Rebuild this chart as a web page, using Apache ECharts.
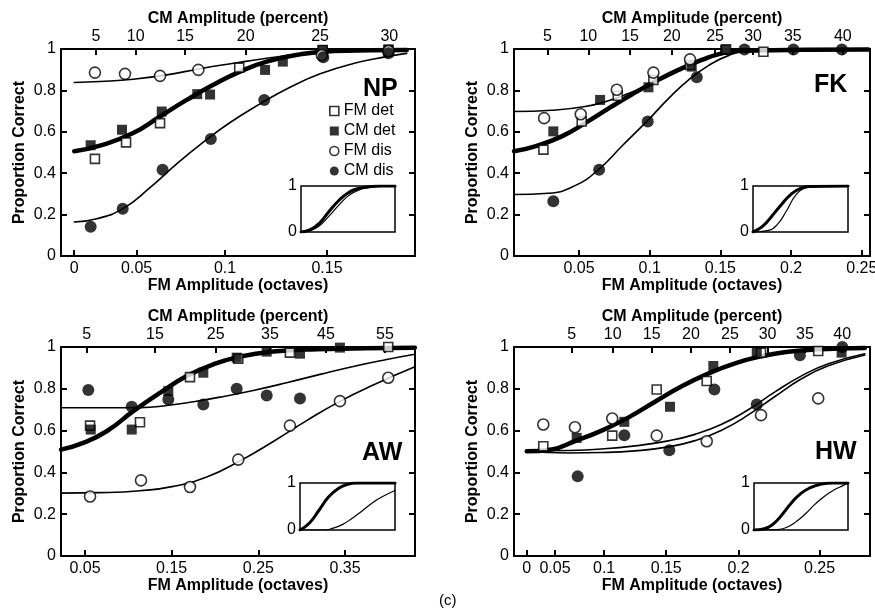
<!DOCTYPE html>
<html><head><meta charset="utf-8">
<script src="https://cdn.jsdelivr.net/npm/echarts@6/dist/echarts.min.js"></script>
<style>html,body{margin:0;padding:0;background:#fff}#c{width:875px;height:616px}</style>
</head><body><div id="c"></div>
<script>
// ---------------- DATA (FM amplitude in octaves, proportion correct) ----------------
// NP
const npFmTicks = [0, 0.05, 0.1, 0.15];
const npCmTicks = [5, 10, 15, 20, 25, 30];
const npCmTickFM = [0.0218, 0.0494, 0.0785, 0.1106, 0.1468, 0.1784];
const npFMdet = [[0.0210,0.469],[0.0432,0.549],[0.0642,0.642],[0.1073,0.910],[0.1480,0.995],[0.1780,0.995]];
const npCMdet = [[0.0175,0.535],[0.0405,0.610],[0.0652,0.698],[0.0852,0.782],[0.0921,0.780],[0.1203,0.899],[0.1290,0.939],[0.1480,0.995],[0.1780,0.998]];
const npFMdis = [[0.0210,0.886],[0.0425,0.880],[0.0642,0.870],[0.0858,0.899],[0.1476,0.970],[0.1780,0.990]];
const npCMdis = [[0.0175,0.141],[0.0410,0.228],[0.0657,0.417],[0.0925,0.565],[0.1199,0.754],[0.1483,0.960],[0.1780,0.979]];
const npCurveDet = [[0,0.506],[0.0249,0.533],[0.0478,0.594],[0.0642,0.674],[0.0794,0.754],[0.0938,0.827],[0.1077,0.891],[0.1211,0.939],[0.1373,0.974],[0.153,0.99],[0.1861,0.995]];
const npCurveFMdis = [[0,0.838],[0.0249,0.843],[0.0478,0.854],[0.0681,0.875],[0.0867,0.905],[0.1043,0.931],[0.1211,0.955],[0.1373,0.974],[0.153,0.985],[0.1683,0.992],[0.1861,0.995]];
const npCurveCMdis = [[0,0.164],[0.0224,0.18],[0.0414,0.23],[0.0582,0.33],[0.0738,0.445],[0.0885,0.55],[0.1026,0.645],[0.1178,0.735],[0.1325,0.815],[0.1468,0.88],[0.1622,0.93],[0.1772,0.963],[0.1861,0.979]];
const npInsetThick = [[0,0],[0.1,0.05],[0.2,0.2],[0.3,0.45],[0.4,0.68],[0.5,0.85],[0.6,0.94],[0.7,0.98],[0.85,1],[1,1]];
const npInsetThin = [[0,0],[0.1,0.03],[0.2,0.14],[0.3,0.35],[0.4,0.58],[0.5,0.78],[0.6,0.9],[0.7,0.96],[0.85,0.99],[1,1]];

// FK
const fkFmTicks = [0.05, 0.1, 0.15, 0.2, 0.25];
const fkCmTicks = [5, 10, 15, 20, 25, 30, 35, 40];
const fkCmTickFM = [0.0276, 0.0566, 0.0861, 0.1156, 0.1462, 0.1731, 0.2012, 0.2366];
const fkFMdet = [[0.0248,0.514],[0.0519,0.65],[0.0774,0.774],[0.1026,0.85],[0.1285,0.923],[0.1540,0.998],[0.1804,0.987]];
const fkCMdet = [[0.0318,0.602],[0.0649,0.754],[0.0991,0.815],[0.1297,0.915],[0.1533,0.995]];
const fkFMdis = [[0.0253,0.666],[0.0512,0.685],[0.0767,0.803],[0.1026,0.886],[0.1285,0.95]];
const fkCMdis = [[0.0318,0.265],[0.0642,0.417],[0.0986,0.65],[0.1333,0.864],[0.1670,0.998],[0.2016,0.998],[0.2359,0.998]];
const fkCurveDet = [[0.004,0.506],[0.0189,0.53],[0.0378,0.578],[0.0543,0.642],[0.0707,0.712],[0.0873,0.78],[0.1038,0.843],[0.1203,0.899],[0.1368,0.947],[0.151,0.979],[0.1651,0.992],[0.2547,0.998]];
const fkCurveFMdis = [[0.004,0.698],[0.0307,0.704],[0.0543,0.722],[0.0707,0.75],[0.0849,0.785],[0.0991,0.827],[0.1132,0.87],[0.1273,0.915],[0.1415,0.955],[0.1533,0.979],[0.1722,0.995],[0.2547,0.998]];
const fkCurveCMdis = [[0.004,0.297],[0.0283,0.303],[0.0472,0.34],[0.0642,0.42],[0.0802,0.53],[0.0986,0.655],[0.1132,0.76],[0.1273,0.85],[0.1415,0.92],[0.1556,0.968],[0.1698,0.99],[0.2547,0.998]];
const fkInsetThick = [[0,0],[0.1,0.12],[0.2,0.35],[0.3,0.6],[0.4,0.82],[0.5,0.95],[0.6,0.99],[1,1]];
const fkInsetThin = [[0,0],[0.15,0.03],[0.25,0.15],[0.35,0.45],[0.45,0.8],[0.55,0.96],[0.65,1],[1,1]];

// AW
const awFmTicks = [0.05, 0.15, 0.25, 0.35];
const awCmTicks = [5, 15, 25, 35, 45, 55];
const awCmTickFM = [0.052, 0.1307, 0.2007, 0.2634, 0.328, 0.396];
const awFMdet = [[0.0558,0.624],[0.1134,0.64],[0.1711,0.856],[0.2268,0.944],[0.2864,0.973],[0.3998,1.0]];
const awCMdet = [[0.0566,0.605],[0.1039,0.605],[0.1461,0.789],[0.1865,0.877],[0.2250,0.949],[0.2596,0.978],[0.2980,0.968],[0.3441,0.997]];
const awFMdis = [[0.0558,0.285],[0.1146,0.362],[0.1711,0.33],[0.2268,0.461],[0.2864,0.624],[0.3441,0.741],[0.3998,0.853]];
const awCMdis = [[0.0538,0.794],[0.1039,0.714],[0.1461,0.749],[0.1865,0.725],[0.2250,0.80],[0.2596,0.768],[0.2980,0.754]];
const awCurveDet = [[0.0223,0.509],[0.048,0.541],[0.075,0.597],[0.1057,0.693],[0.1365,0.781],[0.1673,0.861],[0.198,0.917],[0.2288,0.954],[0.2672,0.978],[0.3172,0.989],[0.4306,0.997]];
const awCurveCMdis = [[0.0223,0.709],[0.0673,0.709],[0.1134,0.71],[0.1442,0.72],[0.1749,0.738],[0.2057,0.76],[0.2441,0.792],[0.2826,0.829],[0.3211,0.869],[0.3595,0.907],[0.398,0.94],[0.4306,0.965]];
const awCurveFMdis = [[0.0223,0.301],[0.0673,0.303],[0.1134,0.312],[0.1519,0.333],[0.1904,0.378],[0.2288,0.455],[0.2672,0.548],[0.3057,0.648],[0.3441,0.74],[0.3825,0.818],[0.4306,0.905]];
const awInsetThick = [[0,0],[0.1,0.15],[0.2,0.42],[0.3,0.7],[0.4,0.88],[0.5,0.97],[0.6,1],[1,1]];
const awInsetThin = [[0,0],[0.25,0],[0.35,0.04],[0.45,0.12],[0.55,0.25],[0.65,0.4],[0.75,0.56],[0.85,0.69],[1,0.84]];

// HW
const hwFmTicks = [0, 0.05, 0.1, 0.15, 0.2, 0.25];
const hwCmTicks = [5, 10, 15, 20, 25, 30, 35, 40];
const hwCmTickFM = [0.0688, 0.1075, 0.1391, 0.1679, 0.1944, 0.2185, 0.2413, 0.2631];
const hwFMdet = [[0.0346,0.525],[0.1071,0.576],[0.1429,0.797],[0.1788,0.837],[0.2144,0.973],[0.2492,0.981]];
const hwCMdet = [[0.0740,0.565],[0.1173,0.642],[0.1528,0.714],[0.1833,0.909],[0.2117,0.978],[0.2628,0.973]];
const hwFMdis = [[0.0346,0.629],[0.0722,0.616],[0.1071,0.658],[0.1429,0.576],[0.1788,0.549],[0.2144,0.674],[0.2492,0.754]];
const hwCMdis = [[0.0750,0.381],[0.1173,0.578],[0.1523,0.506],[0.1840,0.797],[0.2117,0.725],[0.2383,0.96],[0.2632,1.0]];
const hwCurveDet = [[0,0.501],[0.0459,0.51],[0.0722,0.55],[0.0978,0.6],[0.1205,0.662],[0.1416,0.738],[0.1613,0.812],[0.1799,0.873],[0.1977,0.922],[0.2148,0.956],[0.2313,0.977],[0.2472,0.988],[0.276,0.995]];
const hwCurveDisA = [[0,0.5],[0.0652,0.493],[0.0978,0.495],[0.126,0.503],[0.1515,0.522],[0.1707,0.552],[0.1889,0.602],[0.2063,0.675],[0.2231,0.763],[0.2393,0.848],[0.2551,0.91],[0.276,0.962]];
const hwCurveDisB = [[0,0.503],[0.0652,0.505],[0.0978,0.512],[0.126,0.527],[0.1515,0.551],[0.1707,0.582],[0.1889,0.63],[0.2063,0.7],[0.2231,0.785],[0.2393,0.862],[0.2551,0.92],[0.276,0.968]];
const hwInsetThick = [[0,0],[0.1,0.02],[0.2,0.12],[0.3,0.33],[0.4,0.58],[0.5,0.78],[0.6,0.9],[0.7,0.97],[0.85,1],[1,1]];
const hwInsetThin = [[0,0],[0.25,0.01],[0.35,0.06],[0.45,0.18],[0.55,0.35],[0.65,0.55],[0.75,0.72],[0.85,0.85],[0.95,0.95],[1,1]];

const legendNames = ['FM det', 'CM det', 'FM dis', 'CM dis'];

// ---------------- LAYOUT / STYLE ----------------
const FONT = '"Liberation Sans", Arial, Helvetica, sans-serif';
function warp(x, p) { return x < 0 ? -Math.pow(-x, p) : Math.pow(x, p); }

const panels = [
  {key:'NP', p:1.273, range:[-0.0148, 0.1897], fmTicks:npFmTicks, cmTicks:npCmTicks, cmTickFM:npCmTickFM,
   marks:[npFMdet, npCMdet, npFMdis, npCMdis], thick:[npCurveDet], thin:[npCurveFMdis, npCurveCMdis],
   insetThick:[npInsetThick], insetThin:[npInsetThin],
   box:{left:61, top:49, width:354, height:207}, inset:{left:301, top:186, width:94, height:46}, tag:{left:363, top:77}},
  {key:'FK', p:1, range:[0.0040, 0.2558], fmTicks:fkFmTicks, cmTicks:fkCmTicks, cmTickFM:fkCmTickFM,
   marks:[fkFMdet, fkCMdet, fkFMdis, fkCMdis], thick:[fkCurveDet], thin:[fkCurveFMdis, fkCurveCMdis],
   insetThick:[fkInsetThick], insetThin:[fkInsetThin],
   box:{left:514, top:49, width:356, height:207}, inset:{left:753, top:186, width:95, height:46}, tag:{left:814, top:73}},
  {key:'AW', p:1, range:[0.0223, 0.4307], fmTicks:awFmTicks, cmTicks:awCmTicks, cmTickFM:awCmTickFM,
   marks:[awFMdet, awCMdet, awFMdis, awCMdis], thick:[awCurveDet], thin:[awCurveCMdis, awCurveFMdis],
   insetThick:[awInsetThick], insetThin:[awInsetThin],
   box:{left:61, top:347, width:354, height:209}, inset:{left:300, top:483, width:95, height:47}, tag:{left:362, top:441}},
  {key:'HW', p:1.452, range:[-0.0288, 0.2789], fmTicks:hwFmTicks, cmTicks:hwCmTicks, cmTickFM:hwCmTickFM,
   marks:[hwFMdet, hwCMdet, hwFMdis, hwCMdis], thick:[hwCurveDet], thin:[hwCurveDisA, hwCurveDisB],
   insetThick:[hwInsetThick], insetThin:[hwInsetThin],
   box:{left:514, top:347, width:356, height:209}, inset:{left:754, top:483, width:94, height:47}, tag:{left:815, top:440}}
];

const markStyles = [
  {symbol:'rect', symbolSize:9, itemStyle:{color:'#fff', borderColor:'#000', borderWidth:1.6}},
  {symbol:'rect', symbolSize:10, itemStyle:{color:'#000'}},
  {symbol:'circle', symbolSize:11, itemStyle:{color:'#fff', borderColor:'#000', borderWidth:1.6}},
  {symbol:'circle', symbolSize:12, itemStyle:{color:'#000'}}
];

const black = '#000';
const tickFont = {color:black, fontSize:16, fontFamily:FONT};
const nameFont = {color:black, fontSize:16, fontWeight:'bold', fontFamily:FONT};
const lineAx = {show:true, onZero:false, lineStyle:{color:black, width:2}};

function nearestLabel(us, labels) {
  return function (v) {
    let bi = 0, bd = Infinity;
    us.forEach((u, i) => { const d = Math.abs(u - v); if (d < bd) { bd = d; bi = i; } });
    return String(labels[bi]);
  };
}

const grid = [], xAxis = [], yAxis = [], series = [], title = [];

panels.forEach((pn, k) => {
  const toU = x => warp(x, pn.p);
  const gMain = 2 * k, gIn = 2 * k + 1;
  const xb = 3 * k, xi = 3 * k + 2;
  const yl = 3 * k, yi = 3 * k + 2;
  const min = toU(pn.range[0]), max = toU(pn.range[1]);
  const fmU = pn.fmTicks.map(toU), cmU = pn.cmTickFM.map(toU);

  grid.push(Object.assign({outerBoundsMode:'none', containLabel:false}, pn.box));
  grid.push(Object.assign({outerBoundsMode:'none', containLabel:false, show:true, borderColor:black, borderWidth:1.5}, pn.inset));

  xAxis.push({type:'value', gridIndex:gMain, position:'bottom', min, max,
    axisLine:lineAx, splitLine:{show:false},
    axisTick:{show:true, inside:true, length:6, customValues:fmU, lineStyle:{color:black, width:2}},
    axisLabel:Object.assign({show:true, customValues:fmU, margin:5, formatter:nearestLabel(fmU, pn.fmTicks)}, tickFont),
    name:'FM Amplitude (octaves)', nameLocation:'middle', nameGap:19, nameTextStyle:nameFont});
  xAxis.push({type:'value', gridIndex:gMain, position:'top', min, max,
    axisLine:lineAx, splitLine:{show:false},
    axisTick:{show:true, inside:true, length:6, customValues:cmU, lineStyle:{color:black, width:2}},
    axisLabel:Object.assign({show:true, customValues:cmU, margin:4, formatter:nearestLabel(cmU, pn.cmTicks)}, tickFont),
    name:'CM Amplitude (percent)', nameLocation:'middle', nameGap:22, nameTextStyle:nameFont});
  xAxis.push({type:'value', gridIndex:gIn, min:0, max:1, show:false});

  yAxis.push({type:'value', gridIndex:gMain, position:'left', min:0, max:1, interval:0.2,
    axisLine:lineAx, splitLine:{show:false},
    axisTick:{show:true, inside:true, length:6, lineStyle:{color:black, width:2}},
    axisLabel:Object.assign({show:true, margin:5}, tickFont),
    name:'Proportion Correct', nameLocation:'middle', nameGap:33, nameTextStyle:nameFont});
  yAxis.push({type:'value', gridIndex:gMain, position:'right', min:0, max:1, interval:0.2,
    axisLine:lineAx, splitLine:{show:false},
    axisTick:{show:true, inside:true, length:6, lineStyle:{color:black, width:2}},
    axisLabel:{show:false}});
  yAxis.push({type:'value', gridIndex:gIn, min:0, max:1, interval:1,
    axisLine:{show:false}, axisTick:{show:false}, splitLine:{show:false},
    axisLabel:Object.assign({show:true, margin:4}, tickFont)});

  const lineSeries = (data, width, xa, ya, warpX) => ({
    type:'line', xAxisIndex:xa, yAxisIndex:ya, silent:true, symbol:'none', showSymbol:false,
    smooth:0.5, z:2,
    data: data.map(d => [warpX ? toU(d[0]) : d[0], d[1]]),
    lineStyle:{color:black, width:width, join:'round', cap:'round'}, emphasis:{disabled:true}
  });
  pn.thick.forEach(c => series.push(lineSeries(c, 4.5, xb, yl, true)));
  pn.thin.forEach(c => series.push(lineSeries(c, 1.6, xb, yl, true)));
  pn.insetThick.forEach(c => series.push(lineSeries(c, 3, xi, yi, false)));
  pn.insetThin.forEach(c => series.push(lineSeries(c, 1.2, xi, yi, false)));

  pn.marks.forEach((m, j) => {
    series.push(Object.assign({
      type:'scatter', name: k === 0 ? legendNames[j] : pn.key + ' ' + legendNames[j],
      xAxisIndex:xb, yAxisIndex:yl, z:4, silent:true, emphasis:{disabled:true},
      data: m.map(d => [toU(d[0]), d[1]])
    }, markStyles[j]));
  });

  title.push({text:pn.key, left:pn.tag.left, top:pn.tag.top, padding:0,
    textStyle:{color:black, fontSize:25, fontWeight:'bold', fontFamily:FONT}});
});

title.push({text:'(c)', left:439, top:593, padding:0, textStyle:{color:black, fontSize:15, fontWeight:'normal', fontFamily:FONT}});

const option = {
  animation:false,
  backgroundColor:'#fff',
  title,
  legend:{
    orient:'vertical', left:329, top:103, padding:0, itemGap:4, itemWidth:9, itemHeight:9,
    selectedMode:false, textStyle:{color:black, fontSize:16, fontFamily:FONT},
    data: legendNames.map((n, j) => ({name:n, icon: markStyles[j].symbol, itemStyle: markStyles[j].itemStyle}))
  },
  grid, xAxis, yAxis, series
};

const chart = echarts.init(document.getElementById('c'), null, {renderer:'canvas'});
chart.setOption(option);
</script>
</body></html>
